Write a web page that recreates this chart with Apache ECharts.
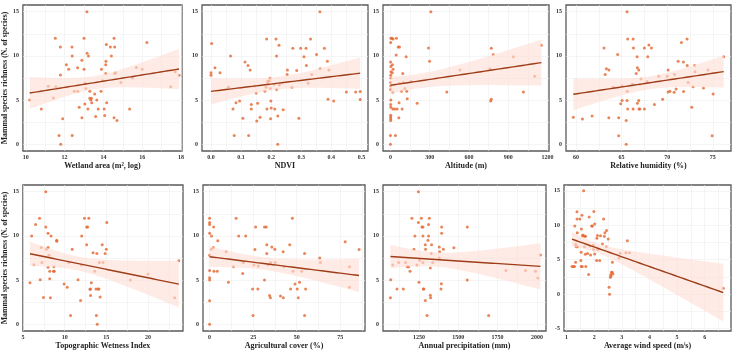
<!DOCTYPE html>
<html>
<head>
<meta charset="utf-8">
<script src="https://cdn.jsdelivr.net/npm/echarts@6/dist/echarts.min.js"></script>
<style>
  html, body { margin: 0; background: #fff; }
  #chart { width: 734px; height: 356px; }
</style>
</head>
<body>
<div id="chart"></div>
<script>
// richness (N. of species) against each predictor
const wetlandPts = [[10.2,5.0],[10.8,4.0],[11.16,6.56],[11.42,5.25],[11.52,12.0],[11.55,6.5],[11.71,1.0],[11.78,11.0],[11.78,7.84],[11.8,0],[11.9,2.9],[12.09,9.0],[12.21,8.5],[12.38,11.0],[12.39,10.0],[12.39,1.0],[12.5,6.0],[12.67,8.66],[12.68,6.0],[12.75,4.2],[12.89,9.5],[12.89,3.0],[13.0,8.5],[13.0,12.0],[13.04,4.57],[13.06,6.9],[13.15,15],[13.16,10.3],[13.23,10.0],[13.1,6.3],[13.2,4.0],[13.3,6.0],[13.3,5.2],[13.35,5.0],[13.38,5.2],[13.4,4.7],[13.55,5.7],[13.6,3.15],[13.66,5.0],[13.73,4.0],[13.88,6.0],[13.9,8.5],[13.95,7.2],[14.04,4.0],[14.07,3.26],[14.12,8.0],[14.12,9.0],[14.13,9.4],[14.15,11.3],[14.17,4.7],[14.36,11.0],[14.41,10.0],[14.55,12.0],[14.55,3.0],[14.58,11.0],[14.58,8.0],[14.63,8.1],[14.7,2.7],[14.9,7.0],[15.35,4.0],[15.5,7.5],[15.7,8.7],[16.0,8.5],[16.24,11.5],[17.47,6.5],[17.7,8.2],[17.9,7.8]];
const ndviPts = [[0.0,7.8],[0.0,8.1],[0.002,11.4],[0.013,8.66],[0.03,8.1],[0.058,6.45],[0.065,10.0],[0.073,4.0],[0.077,1.0],[0.083,4.7],[0.095,4.9],[0.106,2.95],[0.113,9.3],[0.123,8.9],[0.125,1.0],[0.13,8.4],[0.134,4.5],[0.134,4.0],[0.145,6.6],[0.15,5.8],[0.152,2.65],[0.155,4.66],[0.163,3.06],[0.179,6.0],[0.183,6.45],[0.185,11.9],[0.186,4.0],[0.188,7.1],[0.191,6.8],[0.194,7.2],[0.196,7.46],[0.198,2.9],[0.199,4.9],[0.2,4.1],[0.197,6.3],[0.21,6.8],[0.212,4.0],[0.216,11.9],[0.218,10.0],[0.218,6.2],[0.222,0],[0.222,3.2],[0.226,11.2],[0.227,6.7],[0.24,3.9],[0.253,7.9],[0.254,8.4],[0.269,6.45],[0.272,10.86],[0.285,8.36],[0.292,2.95],[0.298,10.86],[0.309,9.9],[0.316,10.86],[0.317,8.9],[0.323,6.9],[0.331,11.9],[0.335,7.9],[0.351,10.15],[0.362,15],[0.363,8.55],[0.377,10.86],[0.387,9.4],[0.389,5.1],[0.392,8.4],[0.408,4.9],[0.45,5.93],[0.481,5.93],[0.496,5.97],[0.496,5.07]];
const altitudePts = [[0,0],[0,1],[2,2.7],[2,2.9],[2,3.1],[2,3.3],[3,4.2],[2,4.5],[3,5.0],[1,6.2],[2,6.6],[1,7.0],[3,7.5],[2,7.8],[4,8.2],[3,8.8],[1,9.3],[2,11.5],[3,12.0],[12,12.0],[20,11.9],[15,9.0],[20,8.5],[14,8.1],[18,5.9],[18,4.0],[33,4.0],[44,10.1],[46,12.0],[38,1.0],[51,4.0],[59,11.0],[69,11.0],[66,4.7],[64,3.0],[72,6.9],[89,4.0],[94,8.0],[84,6.0],[97,7.0],[110,6.3],[120,9.9],[128,5.15],[125,6.0],[158,7.1],[204,4.66],[291,10.9],[299,9.4],[309,15],[431,5.93],[531,8.4],[761,8.55],[766,4.9],[771,5.1],[771,10.86],[786,10.15],[940,9.9],[1016,5.93],[1103,7.7],[1154,11.2]];
const humidityPts = [[59.7,3.06],[60.7,2.87],[61.76,3.2],[63.07,10.9],[63.2,7.9],[63.33,8.55],[63.6,8.4],[63.6,3.0],[64.06,6.45],[64.57,10.15],[64.68,3.0],[64.68,0.97],[64.9,4.6],[65.05,4.96],[65.05,6.6],[65.5,2.7],[65.5,0],[65.6,4.96],[65.6,15],[65.67,11.9],[65.67,4.0],[65.63,6.0],[66.26,4.0],[66.26,11.9],[66.3,10.9],[66.2,6.8],[66.6,8.0],[66.7,9.9],[66.73,8.66],[66.73,4.66],[66.88,8.4],[66.88,4.96],[66.9,4.0],[67.0,4.0],[67.0,6.8],[67.13,7.4],[67.5,10.9],[67.5,4.0],[67.8,7.1],[67.87,9.9],[68.0,11.24],[68.27,10.9],[68.6,4.5],[69.07,7.7],[69.5,5.1],[70.0,7.7],[70.1,8.4],[70.1,5.93],[70.3,6.0],[70.76,5.9],[70.8,7.9],[70.98,6.26],[71.2,9.4],[71.56,11.5],[71.78,9.3],[71.8,5.97],[72.18,11.9],[72.2,8.9],[72.3,7.0],[72.7,4.2],[72.84,6.5],[73.0,8.9],[73.05,8.2],[73.98,6.38],[74.47,8.4],[75.04,5.7],[74.93,0.97],[76.2,9.9]];
const twiPts = [[5.83,4.7],[6.03,10.0],[6.3,6.73],[6.5,11.3],[6.98,12.0],[7.06,5.05],[7.2,8.7],[7.26,7.0],[7.45,3.03],[7.73,15],[7.73,11.0],[7.8,8.5],[8.0,10.3],[8.0,8.7],[8.0,6.45],[8.1,7.8],[8.2,6.0],[8.2,5.16],[8.28,3.0],[8.36,10.0],[8.64,6.0],[8.75,6.0],[8.7,6.5],[9.04,9.5],[9.04,9.4],[9.93,4.56],[10.3,4.2],[10.5,7.0],[10.7,1.0],[10.9,8.5],[11.6,5.05],[11.9,2.7],[12.0,6.7],[12.04,10.0],[12.37,12.0],[12.64,11.0],[12.76,11.0],[12.64,9.0],[12.9,12.0],[13.03,3.96],[13.1,4.0],[13.1,3.25],[13.2,4.7],[13.4,8.1],[13.6,6.0],[13.75,4.0],[13.8,1.0],[13.86,8.0],[13.9,0],[14.0,4.0],[14.1,4.0],[14.15,7.0],[14.25,3.1],[14.5,9.0],[14.6,7.0],[14.85,8.0],[15.0,8.5],[15.05,11.5],[17.9,5.0],[20.0,5.7],[23.2,3.0],[23.7,7.2]];
const agriPts = [[0,0],[0,2.66],[0,5.27],[0,5.0],[0,6.1],[0,7.8],[0,10.3],[0,11.3],[0,11.5],[0,12.0],[1.1,10.0],[1.0,8.5],[2.1,8.7],[2.3,11.0],[2.5,6.0],[4.4,6.0],[4.7,9.46],[9.5,8.2],[10.8,4.75],[13.7,6.5],[15.2,12.0],[16.7,10.0],[19.0,5.76],[19.4,7.0],[20.7,10.0],[24.7,4.0],[24.9,1.0],[25.4,6.7],[26.0,8.46],[26.4,11.0],[27.7,4.0],[27.9,6.6],[31.5,5.0],[31.5,11.0],[32.5,11.0],[32.8,9.0],[32.8,8.0],[33.6,6.75],[34.4,3.25],[34.9,3.0],[35.1,7.0],[35.7,8.75],[37.4,8.5],[37.6,7.0],[40.7,3.2],[42.2,8.2],[42.3,3.0],[42.7,6.5],[46.0,9.0],[46.5,4.0],[47.5,12.0],[47.9,6.0],[49.0,4.56],[50.3,4.0],[50.9,3.0],[51.6,4.75],[52.8,6.0],[54.5,8.0],[54.5,1.0],[55.1,4.0],[63.2,7.5],[63.6,7.0],[77.8,9.35],[80.3,6.5],[80.3,4.2],[85.8,8.46]];
const precipPts = [[1068,3.0],[1070,5.05],[1083,6.7],[1110,4.0],[1121,7.0],[1150,4.0],[1165,7.0],[1176,6.5],[1184,6.5],[1193,6.0],[1205,12.0],[1218,8.5],[1224,10.0],[1237,6.7],[1246,15],[1246,11.5],[1250,4.75],[1254,7.25],[1265,12.0],[1269,11.0],[1275,11.0],[1275,7.0],[1275,10.0],[1277,4.0],[1281,4.0],[1290,9.0],[1292,8.5],[1290,2.7],[1301,1.0],[1307,9.5],[1311,10.0],[1311,11.3],[1316,12.0],[1322,6.36],[1322,3.3],[1324,3.0],[1328,8.0],[1330,9.0],[1337,7.0],[1379,8.75],[1381,8.2],[1379,7.5],[1390,4.0],[1392,4.6],[1394,11.0],[1394,10.3],[1405,8.5],[1472,8.65],[1557,11.0],[1557,5.0],[1693,1.0],[1803,6.1],[1928,6.1],[1991,6.0],[2006,5.24],[2023,7.85]];
const windPts = [[1.2,4.0],[1.25,4.0],[1.29,4.0],[1.3,9.9],[1.33,4.63],[1.33,7.2],[1.35,6.9],[1.38,11.95],[1.39,8.9],[1.38,10.9],[1.4,6.9],[1.48,10.9],[1.52,4.87],[1.53,6.07],[1.54,9.45],[1.56,11.47],[1.53,4.0],[1.57,4.0],[1.58,8.48],[1.6,8.6],[1.62,15],[1.65,8.4],[1.65,6.9],[1.69,8.4],[1.68,5.8],[1.7,4.0],[1.76,5.9],[1.8,2.84],[1.82,11.2],[1.85,7.0],[1.87,5.69],[1.91,9.9],[1.94,9.9],[1.99,12.0],[1.97,7.1],[1.98,6.5],[2.02,10.2],[2.02,5.83],[2.09,4.87],[2.1,8.1],[2.12,8.5],[2.13,6.5],[2.2,4.87],[2.23,8.48],[2.3,7.3],[2.34,10.9],[2.37,8.4],[2.39,8.9],[2.44,6.9],[2.45,9.25],[2.51,8.0],[2.54,1.0],[2.56,0],[2.59,2.46],[2.6,2.8],[2.61,2.65],[2.63,3.18],[2.65,3.18],[2.68,2.94],[2.66,4.63],[2.9,5.25],[2.94,5.93],[3.15,6.0],[3.2,7.76],[3.28,6.0],[6.67,0.87]];

// tick labels
const richTicks = [0, 5, 10, 15];
const windRichTicks = [-5, 0, 5, 10, 15];
const wetlandTicks = [10, 12, 14, 16, 18];
const ndviTicks = [0, 0.1, 0.2, 0.3, 0.4, 0.5];
const altitudeTicks = [0, 300, 600, 900, 1200];
const humidityTicks = [60, 65, 70, 75];
const twiTicks = [5, 10, 15, 20];
const agriTicks = [0, 25, 50, 75];
const precipTicks = [1250, 1500, 1750, 2000];
const windTicks = [1, 2, 3, 4, 5, 6];

const panels = [
  { pts: wetlandPts, name: 'Wetland area (m\u00B2, log)', xr: [9.85, 18.05], xt: wetlandTicks, yr: [-0.75, 15.75], yt: richTicks, g: [22, 5, 160, 146], yName: true },
  { pts: ndviPts, name: 'NDVI', xr: [-0.03, 0.522], xt: ndviTicks, yr: [-0.75, 15.75], yt: richTicks, g: [202, 5, 166, 146], fmt: v => v.toFixed(1) },
  { pts: altitudePts, name: 'Altitude (m)', xr: [-57, 1212], xt: altitudeTicks, yr: [-0.75, 15.75], yt: richTicks, g: [383, 5, 166, 146] },
  { pts: humidityPts, name: 'Relative humidity (%)', xr: [58.9, 77.0], xt: humidityTicks, yr: [-0.75, 15.75], yt: richTicks, g: [566, 5, 165, 146] },
  { pts: twiPts, name: 'Topographic Wetness Index', xr: [4.98, 24.2], xt: twiTicks, yr: [-0.75, 15.75], yt: richTicks, g: [22, 185, 161, 146], yName: true },
  { pts: agriPts, name: 'Agricultural cover (%)', xr: [-3.8, 89.2], xt: agriTicks, yr: [-0.75, 15.75], yt: richTicks, g: [203, 185, 162, 146] },
  { pts: precipPts, name: 'Annual precipitation (mm)', xr: [1021, 2058], xt: precipTicks, yr: [-0.75, 15.75], yt: richTicks, g: [383, 185, 163, 146] },
  { pts: windPts, name: 'Average wind speed (m/s)', xr: [0.91, 6.95], xt: windTicks, yr: [-5.35, 15.85], yt: windRichTicks, g: [564, 185, 167, 146] }
];

// ordinary least squares fit with 95% confidence band (as geom_smooth(method = 'lm'))
function fitLm(pts) {
  const n = pts.length;
  let mx = 0, my = 0;
  pts.forEach(p => { mx += p[0]; my += p[1]; });
  mx /= n; my /= n;
  let sxx = 0, sxy = 0;
  pts.forEach(p => { sxx += (p[0] - mx) ** 2; sxy += (p[0] - mx) * (p[1] - my); });
  const b = sxy / sxx, a = my - b * mx;
  let sse = 0;
  pts.forEach(p => { sse += (p[1] - a - b * p[0]) ** 2; });
  const s = Math.sqrt(sse / (n - 2));
  const t = 1.997;
  const xs = pts.map(p => p[0]);
  const x0 = Math.min(...xs), x1 = Math.max(...xs);
  const line = [], band = [];
  for (let i = 0; i <= 80; i++) {
    const x = x0 + (x1 - x0) * i / 80;
    const y = a + b * x;
    const h = t * s * Math.sqrt(1 / n + (x - mx) ** 2 / sxx);
    line.push([x, y]);
    band.push([x, y - h, y + h]);
  }
  return { line, band };
}

// major ticks plus the minor gridlines between them
function withMinor(ticks) {
  const out = [];
  const step = ticks[1] - ticks[0];
  out.push(ticks[0] - step / 2);
  ticks.forEach(v => { out.push(v); out.push(v + step / 2); });
  return out;
}

const serif = 'Liberation Serif';
const grids = [], xAxes = [], yAxes = [], series = [];

panels.forEach((p, i) => {
  grids.push({
    left: p.g[0], top: p.g[1], width: p.g[2], height: p.g[3],
    show: true, borderColor: '#5a5a5a', borderWidth: 1.3, backgroundColor: '#fff'
  });
  xAxes.push({
    type: 'value', gridIndex: i, min: p.xr[0], max: p.xr[1],
    name: p.name, nameLocation: 'middle', nameGap: 11,
    nameTextStyle: { fontFamily: serif, fontWeight: 'bold', fontSize: 8, color: '#222' },
    axisLine: { show: false },
    axisTick: { show: false, customValues: withMinor(p.xt) },
    axisLabel: {
      customValues: p.xt, margin: 3, fontFamily: serif, fontWeight: 'bold', fontSize: 6, color: '#333',
      formatter: p.fmt || (v => String(v))
    },
    splitLine: { show: true, lineStyle: { color: '#eeeeee', width: 0.6 } }
  });
  yAxes.push({
    type: 'value', gridIndex: i, min: p.yr[0], max: p.yr[1],
    name: p.yName ? 'Mammal species richness (N. of species)' : '',
    nameLocation: 'middle', nameGap: 10,
    nameTextStyle: { fontFamily: serif, fontWeight: 'bold', fontSize: 7.8, color: '#222' },
    axisLine: { show: false },
    axisTick: { show: false, customValues: withMinor(p.yt) },
    axisLabel: { customValues: p.yt, margin: 4, fontFamily: serif, fontWeight: 'bold', fontSize: 6, color: '#333' },
    splitLine: { show: true, lineStyle: { color: '#eeeeee', width: 0.6 } }
  });

  const fit = fitLm(p.pts);
  series.push({
    type: 'scatter', xAxisIndex: i, yAxisIndex: i, data: p.pts, z: 2,
    symbolSize: 3, itemStyle: { color: '#e4672e' }, silent: true
  });
  series.push({
    type: 'custom', xAxisIndex: i, yAxisIndex: i, z: 3, silent: true,
    data: [[fit.band[0][0], fit.band[0][1]]],
    renderItem: (params, api) => {
      const up = fit.band.map(b => api.coord([b[0], b[2]]));
      const lo = fit.band.map(b => api.coord([b[0], b[1]])).reverse();
      return {
        type: 'polygon',
        shape: { points: up.concat(lo) },
        style: { fill: 'rgba(255,222,214,0.62)', stroke: null }
      };
    }
  });
  series.push({
    type: 'line', xAxisIndex: i, yAxisIndex: i, data: fit.line, z: 4,
    showSymbol: false, silent: true, lineStyle: { color: '#9e3d17', width: 1.4 }
  });
});

const chart = echarts.init(document.getElementById('chart'));
chart.setOption({
  animation: false,
  backgroundColor: '#fff',
  grid: grids,
  xAxis: xAxes,
  yAxis: yAxes,
  series: series
});
</script>
</body>
</html>
